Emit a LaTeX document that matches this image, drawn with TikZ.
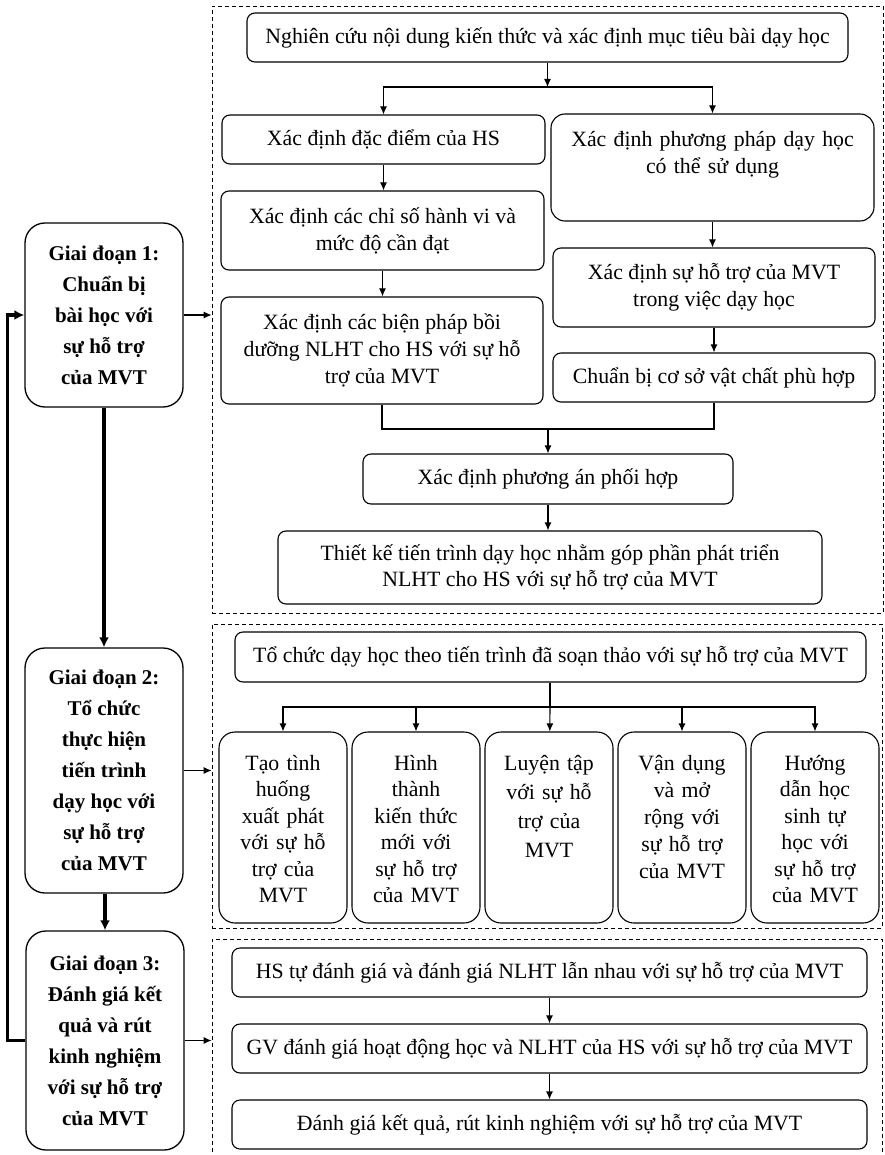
\documentclass[tikz,border=0pt]{standalone}
\usepackage{fontspec}
\setmainfont{Liberation Serif}
\usepackage{tikz}
\usetikzlibrary{arrows.meta}

\begin{document}
\begin{tikzpicture}[
        x=1pt, y=-1pt,
        font=\fontsize{21.8}{27}\selectfont,
        block/.style={rectangle, draw, rounded corners=8pt, align=center, line width=1.1pt, inner sep=2pt},
        topblock/.style={rectangle, draw, align=center, line width=1.1pt, inner sep=4pt, text width=#1},
        stage/.style={rectangle, draw, rounded corners=20pt, align=center, line width=1.3pt, minimum width=158pt, font=\fontsize{21}{31}\selectfont\bfseries},
        frame/.style={rectangle, draw, dash pattern=on 4pt off 3pt, line width=0.8pt},
        line/.style={draw, line width=1.1pt, -{Latex[length=8pt, width=7pt]}},
        bigline/.style={draw, line width=3.2pt, -{Latex[length=10pt, width=10pt]}},
        plain/.style={draw, line width=1.1pt}
        ]
        \useasboundingbox (0,0) rectangle (884,1155);

        % Frames
        \node [frame, minimum width=671pt, minimum height=607pt] (frame1) at (547.5,309.5) {};
        \node [frame, minimum width=670pt, minimum height=304pt] (frame2) at (547,776) {};
        \node [frame, minimum width=670pt, minimum height=222pt] (frame3) at (547,1050) {};

        % Stages
        \node [stage, minimum height=184pt] (stage1) at (104,315) {Giai đoạn 1:\\Chuẩn bị\\bài học với\\sự hỗ trợ\\của MVT};
        \node [stage, minimum height=245pt] (stage2) at (104,770.5) {Giai đoạn 2:\\Tổ chức\\thực hiện\\tiến trình\\dạy học với\\sự hỗ trợ\\của MVT};
        \node [stage, minimum height=219pt] (stage3) at (105,1040.5) {Giai đoạn 3:\\Đánh giá kết\\quả và rút\\kinh nghiệm\\với sự hỗ trợ\\của MVT};

        % Nodes, stage 1
        \node [block, minimum width=601pt, minimum height=49pt] (research) at (547.5,37.5) {Nghiên cứu nội dung kiến thức và xác định mục tiêu bài dạy học};
        \node [block, minimum width=323pt, minimum height=49pt] (learners) at (383.5,139.5) {Xác định đặc điểm của HS};
        \node [block, minimum width=323pt, minimum height=79pt] (indicators) at (382.5,230.5) {Xác định các chỉ số hành vi và\\mức độ cần đạt};
        \node [block, minimum width=322pt, minimum height=107pt] (measures) at (382,350.5) {Xác định các biện pháp bồi\\dưỡng NLHT cho HS với sự hỗ\\trợ của MVT};
        \node [topblock=315pt, rounded corners=14pt, text height=29pt, text depth=70pt] (methods) at (712.5,167.5) {Xác định phương pháp dạy học\\có thể sử dụng};
        \node [block, minimum width=322pt, minimum height=79pt] (support) at (714,287.5) {Xác định sự hỗ trợ của MVT\\trong việc dạy học};
        \node [block, minimum width=322pt, minimum height=49pt] (facilities) at (714,377.5) {Chuẩn bị cơ sở vật chất phù hợp};
        \node [block, minimum width=370pt, minimum height=50pt] (combine) at (548,479) {Xác định phương án phối hợp};
        \node [block, minimum width=544pt, minimum height=73pt, font=\fontsize{21.8}{26}\selectfont] (design) at (550,567.5) {Thiết kế tiến trình dạy học nhằm góp phần phát triển\\NLHT cho HS với sự hỗ trợ của MVT};

        % Nodes, stage 2
        \node [block, minimum width=631pt, minimum height=50pt] (organise) at (550.5,657) {Tổ chức dạy học theo tiến trình đã soạn thảo với sự hỗ trợ của MVT};
        \node [topblock=120pt, rounded corners=16pt, text height=34pt, text depth=149pt, font=\fontsize{21.8}{26.5}\selectfont] (act1) at (283,827.5) {Tạo tình\\huống\\xuất phát\\với sự hỗ\\trợ của\\MVT};
        \node [topblock=120pt, rounded corners=16pt, text height=34pt, text depth=149pt, font=\fontsize{21.8}{26.5}\selectfont] (act2) at (416,827.5) {Hình\\thành\\kiến thức\\mới với\\sự hỗ trợ\\của MVT};
        \node [topblock=120pt, rounded corners=16pt, text height=34pt, text depth=149pt, font=\fontsize{21.8}{29}\selectfont] (act3) at (549,827.5) {Luyện tập\\với sự hỗ\\trợ của\\MVT};
        \node [topblock=120pt, rounded corners=16pt, text height=34pt, text depth=149pt, font=\fontsize{21.8}{27}\selectfont] (act4) at (682,827.5) {Vận dụng\\và mở\\rộng với\\sự hỗ trợ\\của MVT};
        \node [topblock=120pt, rounded corners=16pt, text height=34pt, text depth=149pt, font=\fontsize{21.8}{26.5}\selectfont] (act5) at (815,827.5) {Hướng\\dẫn học\\sinh tự\\học với\\sự hỗ trợ\\của MVT};

        % Nodes, stage 3
        \node [block, minimum width=635pt, minimum height=49pt] (selfeval) at (549.5,972.5) {HS tự đánh giá và đánh giá NLHT lẫn nhau với sự hỗ trợ của MVT};
        \node [block, minimum width=635pt, minimum height=49pt] (teachereval) at (549.5,1048.5) {GV đánh giá hoạt động học và NLHT của HS với sự hỗ trợ của MVT};
        \node [block, minimum width=635pt, minimum height=49pt] (review) at (549.5,1124.5) {Đánh giá kết quả, rút kinh nghiệm với sự hỗ trợ của MVT};

        \coordinate (split1) at (547.5,87);
        \coordinate (merge1) at (548,429);
        \coordinate (split2) at (550,707);

        % Edges
        \path [bigline] (stage1.south) -- (stage1.south |- stage2.north);
        \path [bigline] (stage2.south -| stage3.north) -- (stage3.north);
        \path [bigline] (stage3.west) -- ++(-18,0) |- (stage1.west);
        \path [line] (stage1.east) -- (stage1.east -| frame1.west);
        \path [line] (stage2.east) -- (stage2.east -| frame2.west);
        \path [line] (stage3.east) -- (stage3.east -| frame3.west);

        \path [line] (research) -- (split1);
        \path [line] (split1) -| (learners);
        \path [line] (split1) -| (methods);
        \path [line] (learners.south) -- (learners.south |- indicators.north);
        \path [line] (indicators.south) -- (indicators.south |- measures.north);
        \path [line] (methods.south) -- (methods.south |- support.north);
        \path [line] (support) -- (facilities);
        \path [plain] (measures.south) |- (facilities.south |- merge1) -- (facilities.south);
        \path [line] (merge1) -- (combine);
        \path [line] (combine.south) -- (combine.south |- design.north);

        \path [plain] (organise.south -| split2) -- (split2);
        \path [line] (split2) -| (act1);
        \path [line] (split2) -| (act2);
        \path [line] (split2) -- (act3);
        \path [line] (split2) -| (act4);
        \path [line] (split2) -| (act5);

        \path [line] (selfeval) -- (teachereval);
        \path [line] (teachereval) -- (review);
    \end{tikzpicture}
\end{document}
